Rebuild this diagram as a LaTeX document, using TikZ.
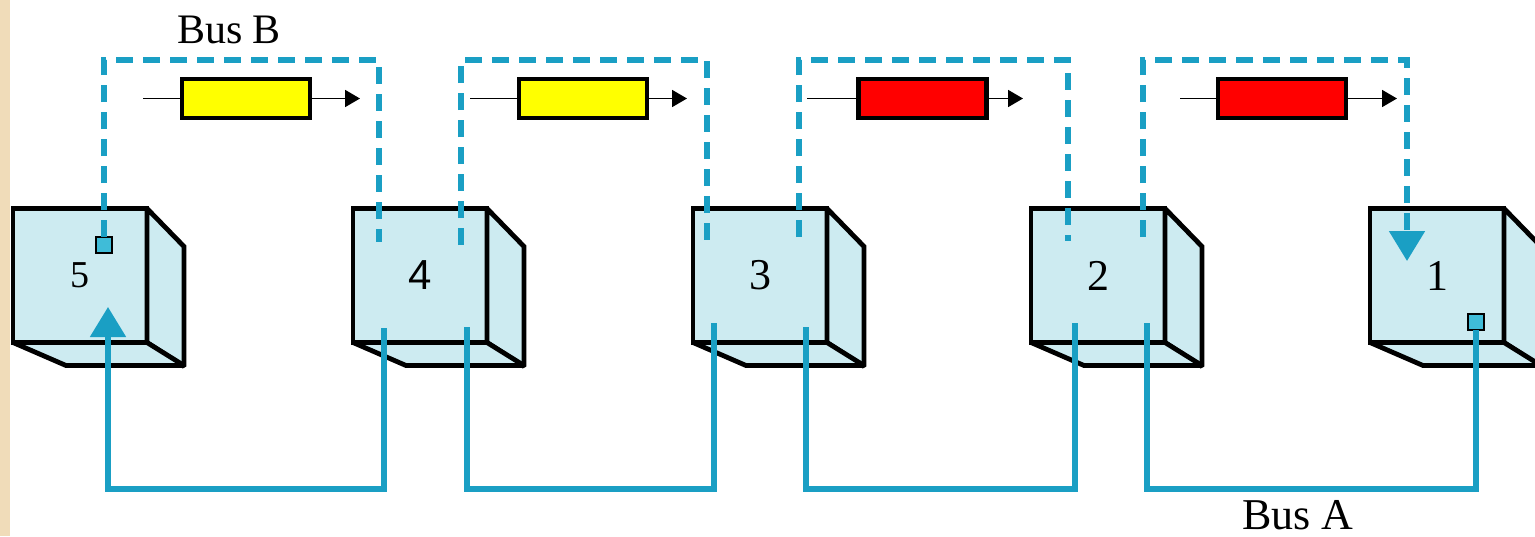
\documentclass[tikz,border=0pt]{standalone}
\usepackage{fontspec}
\setmainfont{Liberation Serif}
\newfontfamily\sansdigit{Liberation Sans}
\usetikzlibrary{arrows.meta}
\definecolor{c1a9fc4}{RGB}{26,159,196}
\definecolor{ccdebf1}{RGB}{205,235,241}
\definecolor{c3fbcd8}{RGB}{63,188,216}
\definecolor{cf0dcb9}{RGB}{240,220,185}
\definecolor{cff0000}{RGB}{255,0,0}
\definecolor{cffff00}{RGB}{255,255,0}
\tikzset{
  face/.style={draw=black, line width=2.4pt, fill=ccdebf1, minimum width=67pt,
    minimum height=67pt},
  side/.style={draw=black, line width=2.4pt, fill=ccdebf1, line join=miter,
    miter limit=2},
  port/.style={draw=black, line width=1.2pt, fill=c3fbcd8, minimum size=8pt},
  packet/.style={draw=black, line width=2.2pt, minimum width=64pt,
    minimum height=19.5pt},
  wire/.style={draw=black, line width=0.9pt},
  flow/.style={wire, -{Triangle[width=8.5pt,length=7.5pt]}},
  busB/.style={draw=c1a9fc4, line width=2.6pt, dash pattern=on 8.5pt off 5pt},
  busA/.style={draw=c1a9fc4, line width=2.6pt},
  busend/.style={-{Triangle[width=17.5pt,length=15pt]}},
}

\begin{document}
\begin{tikzpicture}[y=0.5pt, x=0.5pt, yscale=-1, inner sep=0pt, outer sep=0pt]
\useasboundingbox (0,0) rectangle (1535,536);
  \path[fill=cf0dcb9] (0,0) rectangle (10,536);

  % stations
  \node[face] (cube5) at (80,275.5) {\fontsize{19}{19}\selectfont 5};
  \node[face] (cube4) at (420,275.5) {\sansdigit\fontsize{21}{21}\selectfont 4};
  \node[face] (cube3) at (760,275.5) {\fontsize{22}{22}\selectfont 3};
  \node[face] (cube2) at (1098,275.5) {\fontsize{22}{22}\selectfont 2};
  \node[face] (cube1) at (1437,275.5) {\fontsize{22}{22}\selectfont 1};
  \path[side] (cube5.north east) -- ++(37,38) -- ++(0,120) -- (cube5.south east) -- cycle;
  \path[side] (cube5.south west) -- (cube5.south east) -- ++(37,23) -- ++(-118,0) -- cycle;
  \path[side] (cube4.north east) -- ++(37,38) -- ++(0,120) -- (cube4.south east) -- cycle;
  \path[side] (cube4.south west) -- (cube4.south east) -- ++(37,23) -- ++(-118,0) -- cycle;
  \path[side] (cube3.north east) -- ++(37,38) -- ++(0,120) -- (cube3.south east) -- cycle;
  \path[side] (cube3.south west) -- (cube3.south east) -- ++(37,23) -- ++(-118,0) -- cycle;
  \path[side] (cube2.north east) -- ++(37,38) -- ++(0,120) -- (cube2.south east) -- cycle;
  \path[side] (cube2.south west) -- (cube2.south east) -- ++(37,23) -- ++(-118,0) -- cycle;
  \path[side] (cube1.north east) -- ++(37,38) -- ++(0,120) -- (cube1.south east) -- cycle;
  \path[side] (cube1.south west) -- (cube1.south east) -- ++(37,23) -- ++(-118,0) -- cycle;

  % bus ends
  \coordinate (topB) at (0,60);
  \coordinate (botA) at (0,489);
  \coordinate (b4in) at (379,242);
  \coordinate (b4out) at (461,245);
  \coordinate (b3in) at (707,241);
  \coordinate (b3out) at (799,237);
  \coordinate (b2in) at (1068,241);
  \coordinate (b2out) at (1143,237);
  \coordinate (b1in) at (1407,261);
  \coordinate (a5in) at (108,307);
  \coordinate (a4in) at (467,327);
  \coordinate (a4out) at (384,328);
  \coordinate (a3in) at (806,327);
  \coordinate (a3out) at (714,323);
  \coordinate (a2in) at (1147,323);
  \coordinate (a2out) at (1075,323);
  \node[port] (port5) at (104,245) {};
  \node[port] (port1) at (1476,322) {};

  % Bus B
  \path[busB] (port5.north) -- (port5.north |- topB) -| (b4in);
  \path[busB] (b4out) -- (b4out |- topB) -| (b3in);
  \path[busB] (b3out) -- (b3out |- topB) -| (b2in);
  \path[busB, busend] (b2out) -- (b2out |- topB) -| (b1in);

  % Bus A
  \path[busA, busend] (a4out) -- (a4out |- botA) -| (a5in);
  \path[busA] (a3out) -- (a3out |- botA) -| (a4in);
  \path[busA] (a2out) -- (a2out |- botA) -| (a3in);
  \path[busA] (port1.south) -- (port1.south |- botA) -| (a2in);

  % packets
  \node[packet, fill=cffff00] (pkt1) at (246,98.5) {};
  \node[packet, fill=cffff00] (pkt2) at (583,98.5) {};
  \node[packet, fill=cff0000] (pkt3) at (922.5,98.5) {};
  \node[packet, fill=cff0000] (pkt4) at (1282,98.5) {};
  \coordinate (f1s) at (143,98.5);
  \coordinate (f1e) at (360,98.5);
  \coordinate (f2s) at (470,98.5);
  \coordinate (f2e) at (687,98.5);
  \coordinate (f3s) at (807,98.5);
  \coordinate (f3e) at (1023,98.5);
  \coordinate (f4s) at (1180,98.5);
  \coordinate (f4e) at (1397,98.5);
  \path[wire] (f1s) -- (pkt1.west);
  \path[flow] (pkt1.east) -- (f1e);
  \path[wire] (f2s) -- (pkt2.west);
  \path[flow] (pkt2.east) -- (f2e);
  \path[wire] (f3s) -- (pkt3.west);
  \path[flow] (pkt3.east) -- (f3e);
  \path[wire] (f4s) -- (pkt4.west);
  \path[flow] (pkt4.east) -- (f4e);

  \node[anchor=base] (busBtext) at (229,43) {\fontsize{21}{21}\selectfont Bus B};
  \node[anchor=base] (busAtext) at (1298,529) {\fontsize{22}{22}\selectfont Bus A};
\end{tikzpicture}
\end{document}
